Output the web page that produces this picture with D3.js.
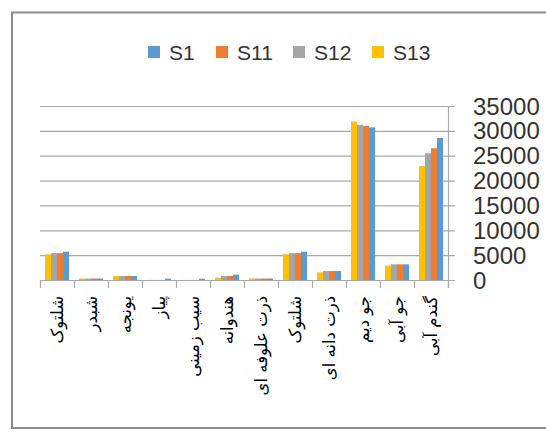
<!DOCTYPE html>
<html>
<head>
<meta charset="utf-8">
<script src="https://cdn.jsdelivr.net/npm/d3@7"></script>
<style>
  body { margin: 0; background: #fff; }
  svg { display: block; }
</style>
</head>
<body>
<svg></svg>
<script>
// categories, right to left as in the original sheet
var categories = ['گندم آبی', 'جو آبی', 'جو دیم', 'ذرت دانه ای', 'شلتوک', 'ذرت علوفه ای',
                  'هندوانه', 'سیب زمینی', 'پیاز', 'یونجه', 'شبدر', 'شلتوک'];
var seriesNames = ['S1', 'S11', 'S12', 'S13'];
var colors = ['#5B9BD5', '#ED7D31', '#A5A5A5', '#FFC000'];

var s1  = [28580, 3150, 30700, 1800, 5700, 300, 1070, 250, 280, 800, 300, 5700];
var s11 = [26500, 3150, 31000, 1800, 5400, 300, 800, 20, 20, 800, 300, 5400];
var s12 = [25500, 3150, 31200, 1800, 5400, 300, 800, 20, 20, 800, 300, 5400];
var s13 = [22900, 2900, 31900, 1550, 5200, 300, 470, 20, 20, 800, 300, 5150];
var yTicks = [0, 5000, 10000, 15000, 20000, 25000, 30000, 35000];

var seriesValues = [s1, s11, s12, s13];

var svgWidth = 546, svgHeight = 432;
var svg = d3.select('svg')
    .attr('width', svgWidth)
    .attr('height', svgHeight);

// outer frame
svg.append('rect')
    .attr('x', 12).attr('y', 12.5)
    .attr('width', 560).attr('height', 415.5)
    .attr('fill', 'none')
    .attr('stroke', '#8c8c8c')
    .attr('stroke-width', 2);

var plotLeft = 40, plotRight = 448, plotTop = 106, plotBottom = 280;

var x0 = d3.scaleBand()
    .domain(d3.range(categories.length))
    .range([plotRight, plotLeft]);   // right-to-left

var x1 = d3.scaleBand()
    .domain(seriesNames)
    .range([x0.bandwidth() - 5, 5]);

var y = d3.scaleLinear()
    .domain([0, 35000])
    .range([plotBottom, plotTop]);

// gridlines + right axis ticks
svg.append('g')
    .selectAll('line')
    .data(yTicks)
    .enter().append('line')
    .attr('x1', plotLeft).attr('x2', plotRight + 7)
    .attr('y1', (d) => y(d) + 0.5).attr('y2', (d) => y(d) + 0.5)
    .attr('stroke', '#a9a9a9')
    .attr('stroke-width', 1.2);

// right axis line
svg.append('line')
    .attr('x1', plotRight + 0.5).attr('x2', plotRight + 0.5)
    .attr('y1', plotTop).attr('y2', plotBottom + 8)
    .attr('stroke', '#a9a9a9')
    .attr('stroke-width', 1.2);

// y labels
svg.append('g')
    .selectAll('text')
    .data(yTicks)
    .enter().append('text')
    .attr('x', 473)
    .attr('y', (d) => y(d))
    .attr('dy', '0.36em')
    .attr('font-family', 'Liberation Sans, Arial, sans-serif')
    .attr('font-size', 24)
    .attr('fill', '#333')
    .text((d) => d);

// bars
var groups = svg.append('g')
    .selectAll('g')
    .data(categories)
    .enter().append('g')
    .attr('transform', (d, i) => 'translate(' + x0(i) + ',0)');

groups.selectAll('rect')
    .data((d, i) => seriesNames.map((s, k) => ({ s: s, k: k, v: seriesValues[k][i] })))
    .enter().append('rect')
    .attr('x', (d) => x1(d.s))
    .attr('width', x1.bandwidth())
    .attr('y', (d) => y(d.v))
    .attr('height', (d) => y(0) - y(d.v))
    .attr('fill', (d) => colors[d.k]);

// bottom axis
svg.append('line')
    .attr('x1', plotLeft).attr('x2', plotRight)
    .attr('y1', plotBottom + 0.5).attr('y2', plotBottom + 0.5)
    .attr('stroke', '#a9a9a9')
    .attr('stroke-width', 1.2);

var tickPos = d3.range(categories.length).map((i) => x0(i)).concat([plotRight]);
svg.append('g')
    .selectAll('line')
    .data(tickPos)
    .enter().append('line')
    .attr('x1', (d) => d + 0.5).attr('x2', (d) => d + 0.5)
    .attr('y1', plotBottom).attr('y2', plotBottom + 8)
    .attr('stroke', '#a9a9a9')
    .attr('stroke-width', 1.2);

// category labels, rotated, reading from the axis downward
svg.append('g')
    .selectAll('text')
    .data(categories)
    .enter().append('text')
    .attr('transform', (d, i) => 'translate(' + (x0(i) + x0.bandwidth() / 2) + ',' + (plotBottom + 16) + ') rotate(-90)')
    .attr('dy', '0.35em')
    .attr('text-anchor', 'end')
    .attr('font-family', 'DejaVu Sans, sans-serif')
    .attr('font-size', 16.5)
    .attr('fill', '#000')
    .text((d) => d);

// legend
var legendX = [148, 216, 293, 372];
var legend = svg.append('g')
    .selectAll('g')
    .data(seriesNames)
    .enter().append('g')
    .attr('transform', (d, i) => 'translate(' + legendX[i] + ',52)');

legend.append('rect')
    .attr('x', 0).attr('y', -6)
    .attr('width', 12).attr('height', 12)
    .attr('fill', (d, i) => colors[i]);

legend.append('text')
    .attr('x', 21)
    .attr('dy', '0.36em')
    .attr('font-family', 'Liberation Sans, Arial, sans-serif')
    .attr('font-size', 21)
    .attr('fill', '#333')
    .text((d) => d);
</script>
</body>
</html>
